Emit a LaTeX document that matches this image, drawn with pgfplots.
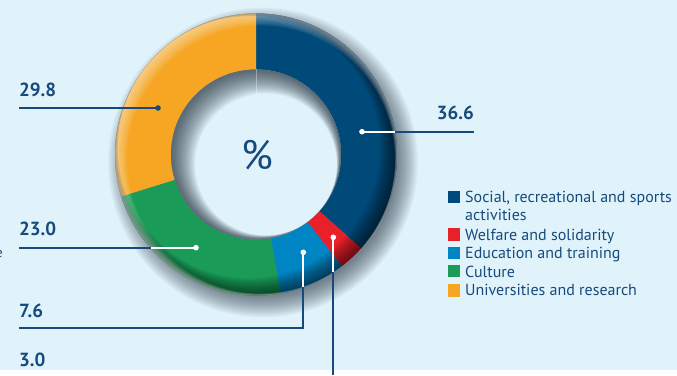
\documentclass[border=0pt]{standalone}
\usepackage{pgfplots}
\pgfplotsset{compat=1.18}
\usepackage{pgfplotstable}
\usepackage{fontspec}
\setmainfont{PT Sans}
\definecolor{bg}{HTML}{E0F3FB}
\definecolor{txt}{HTML}{174A7C}
\definecolor{cSoc}{HTML}{004A7A}
\definecolor{cWel}{HTML}{E8202A}
\definecolor{cEdu}{HTML}{0085C4}
\definecolor{cCul}{HTML}{1A9B57}
\definecolor{cUni}{HTML}{F6A623}
\definecolor{shd}{HTML}{1E2C38}
\pgfplotstableread{
name value
Social 36.6
Welfare 3.0
Education 7.6
Culture 23.0
Universities 29.8
}\shares
\pgfplotstablegetelem{0}{value}\of\shares \let\vA\pgfplotsretval
\pgfplotstablegetelem{1}{value}\of\shares \let\vB\pgfplotsretval
\pgfplotstablegetelem{2}{value}\of\shares \let\vC\pgfplotsretval
\pgfplotstablegetelem{3}{value}\of\shares \let\vD\pgfplotsretval
\pgfplotstablegetelem{4}{value}\of\shares \let\vE\pgfplotsretval
\pgfmathsetmacro\aA{90}
\pgfmathsetmacro\aB{\aA-3.6*\vA}
\pgfmathsetmacro\aC{\aB-3.6*\vB}
\pgfmathsetmacro\aD{\aC-3.6*\vC}
\pgfmathsetmacro\aE{\aD-3.6*\vD}
\pgfmathsetmacro\aF{\aE-3.6*\vE}
% donut geometry (1 axis unit = 1bp)
\def\cx{256}\def\cy{215.5}\def\Ro{141}\def\Ri{85}
\newcommand\seg[3]{%
  \fill[#1] ({\cx+\Ro*cos(#2)},{\cy+\Ro*sin(#2)})
    arc[start angle=#2, end angle=#3, radius=\Ro bp]
    -- ({\cx+\Ri*cos(#3)},{\cy+\Ri*sin(#3)})
    arc[start angle=#3, end angle=#2, radius=\Ri bp] -- cycle;}
\begin{document}
\begin{tikzpicture}
\begin{axis}[scale only axis, width=677bp, height=370bp,
  xmin=0, xmax=677, ymin=0, ymax=370, hide axis, clip=false]
\fill[bg] (0,0) rectangle (677,370);
% drop shadow
\pgfplotsinvokeforeach{0,...,22}{
  \fill[shd, opacity=0.032] ({\cx+7},{\cy-8}) circle[radius={155bp-#1bp}];
}
% ring segments
\seg{cSoc}{\aA}{\aB}
\seg{cWel}{\aB}{\aC}
\seg{cEdu}{\aC}{\aD}
\seg{cCul}{\aD}{\aE}
\seg{cUni}{\aE}{\aF}
% tube shading
\begin{scope}
  \clip ({\cx},{\cy}) circle[radius=\Ro bp];
  \pgfplotsinvokeforeach{2,4,...,20}{
    \fill[black, opacity=0.065, even odd rule] (0,0) rectangle (677,370)
      ({\cx-#1/2.828},{\cy+#1/2.828}) circle[radius={\Ro bp-#1bp/2}];
  }
  \pgfplotsinvokeforeach{2,4,...,14}{
    \fill[white, opacity=0.08, even odd rule] (0,0) rectangle (677,370)
      ({\cx+#1/2.828},{\cy-#1/2.828}) circle[radius={\Ro bp-#1bp/2}];
  }
\end{scope}
% hole
\fill[bg] ({\cx},{\cy}) circle[radius=\Ri bp];
\begin{scope}
  \clip ({\cx},{\cy}) circle[radius=\Ri bp];
  \pgfplotsinvokeforeach{2,4,...,28}{
    \fill[shd, opacity=0.075, even odd rule] (0,0) rectangle (677,370)
      ({\cx+#1/2.828},{\cy-#1/2.828}) circle[radius={\Ri bp-#1bp/2}];
  }
\end{scope}
\draw[white, opacity=0.35, line width=0.6bp] (\cx,{\cy+\Ri}) -- (\cx,{\cy+\Ri-26});
% centre sign
\node[txt, font=\fontsize{41bp}{41bp}\selectfont, inner sep=0] at (257,215) {\%};
% leader lines
\begin{scope}[line width=1.8bp]
  % 29.8
  \draw[txt] (19,262) -- (158,262);
  \fill[txt] (158,262) circle[radius=2.8bp];
  % 36.6
  \draw[txt] (395,238.3) -- (474,238.3);
  \draw[white] (362,238.3) -- (395,238.3);
  \fill[white] (362,238.3) circle[radius=2.8bp];
  % 23.0
  \draw[txt] (19,122.3) -- (151,122.3);
  \draw[white] (151,122.3) -- (196,122.3);
  \fill[white] (196,122.3) circle[radius=2.8bp];
  % 7.6
  \draw[txt] (19,41.7) -- (303.3,41.7) -- (303.3,83.3);
  \draw[white] (303.3,83.3) -- (303.3,117.7);
  \fill[white] (303.3,117.7) circle[radius=2.8bp];
  % 3.0
  \draw[txt] (333.3,-5) -- (333.3,98.3);
  \draw[white] (333.3,98.3) -- (333.3,132.7);
  \fill[white] (333.3,132.7) circle[radius=2.8bp];
\end{scope}
% value labels
\begin{scope}[every node/.style={txt, inner sep=0, font=\fontsize{19bp}{19bp}\selectfont\bfseries}]
  \node[anchor=base west] at (19,273.3) {29.8};
  \node[anchor=base east] at (474,251) {36.6};
  \node[anchor=base west] at (19,135) {23.0};
  \node[anchor=base west] at (19,52.3) {7.6};
  \node[anchor=base west] at (19,4) {3.0};
\end{scope}
\node[txt, overlay, inner sep=0, anchor=base east, font=\fontsize{14bp}{14bp}\selectfont] at (3,113) {e};
% legend
\fill[cSoc] (448,167.3) rectangle (460,179.3);
\fill[cWel] (448,129.3) rectangle (460,141.7);
\fill[cEdu] (448,111) rectangle (460,123.3);
\fill[cCul] (448,93) rectangle (460,105);
\fill[cUni] (448,73.3) rectangle (460,86);
\begin{scope}[every node/.style={txt, inner sep=0, anchor=base west, font=\fontsize{16bp}{16bp}\selectfont}]
  \node at (465,168) {Social, recreational and sports};
  \node at (465,149.3) {activities};
  \node at (465,130) {Welfare and solidarity};
  \node at (465,111.3) {Education and training};
  \node at (465,93) {Culture};
  \node at (465,74.3) {Universities and research};
\end{scope}
\end{axis}
\end{tikzpicture}
\end{document}
